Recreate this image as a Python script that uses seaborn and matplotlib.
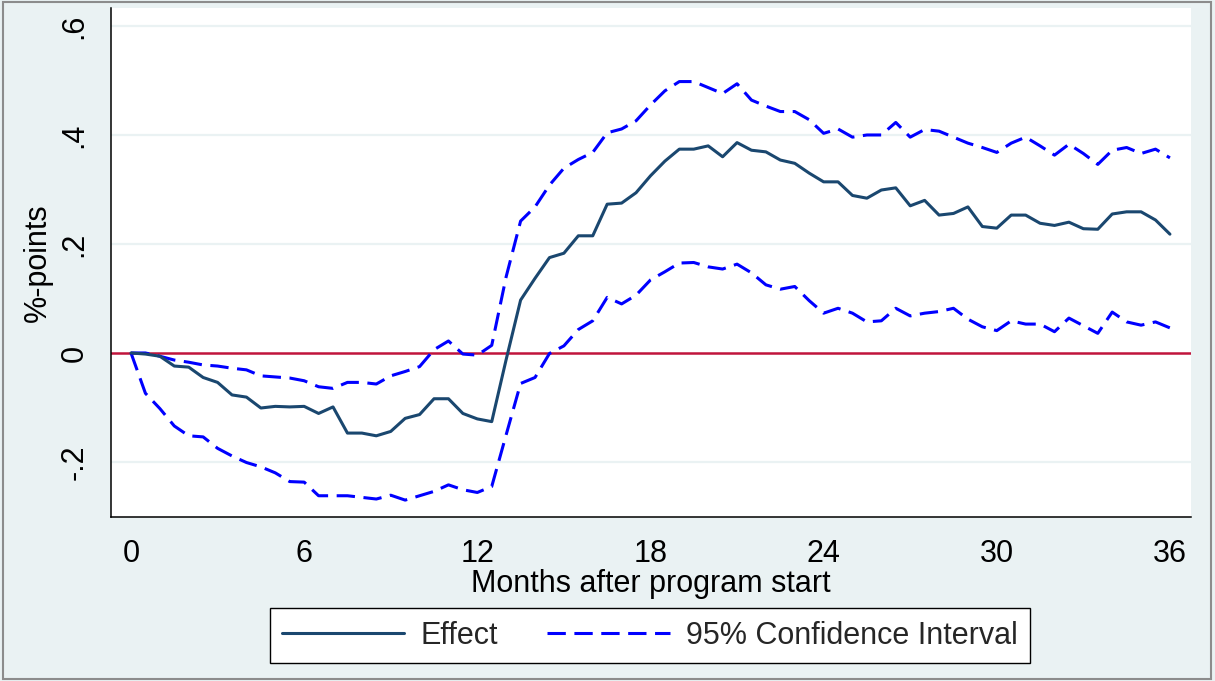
import numpy as np
import matplotlib
matplotlib.use("Agg")
import matplotlib.pyplot as plt
import seaborn as sns
from matplotlib.lines import Line2D
from matplotlib.patches import Rectangle

# Months after program start, in half-month steps (0, 0.5, ..., 36)
months = np.arange(0, 36.5, 0.5)

# Estimated effect (percentage points)
effect = [
    0.000, -0.002, -0.006, -0.024, -0.026, -0.045, -0.054, -0.077, -0.081, -0.101,
    -0.098, -0.099, -0.098, -0.111, -0.099, -0.147, -0.147, -0.152, -0.144, -0.120,
    -0.113, -0.084, -0.084, -0.111, -0.121, -0.126, -0.012, 0.097, 0.137, 0.175,
    0.183, 0.215, 0.215, 0.273, 0.275, 0.294, 0.325, 0.352, 0.374, 0.374,
    0.380, 0.360, 0.386, 0.372, 0.369, 0.354, 0.348, 0.330, 0.314, 0.314,
    0.289, 0.284, 0.299, 0.303, 0.270, 0.280, 0.253, 0.256, 0.268, 0.232,
    0.229, 0.253, 0.253, 0.238, 0.234, 0.240, 0.228, 0.227, 0.255, 0.259,
    0.259, 0.244, 0.218,
]

# Upper bound of the 95% confidence interval
ci_upper = [
    0.000, 0.000, -0.006, -0.013, -0.017, -0.022, -0.024, -0.028, -0.031, -0.042,
    -0.044, -0.046, -0.051, -0.062, -0.065, -0.054, -0.054, -0.057, -0.042, -0.034,
    -0.025, 0.006, 0.022, -0.002, -0.004, 0.014, 0.140, 0.242, 0.268, 0.308,
    0.339, 0.355, 0.368, 0.404, 0.411, 0.426, 0.455, 0.481, 0.498, 0.498,
    0.487, 0.476, 0.494, 0.464, 0.453, 0.443, 0.443, 0.428, 0.403, 0.411,
    0.396, 0.400, 0.400, 0.423, 0.396, 0.410, 0.407, 0.396, 0.385, 0.377,
    0.368, 0.385, 0.396, 0.380, 0.363, 0.383, 0.366, 0.346, 0.372, 0.377,
    0.366, 0.374, 0.358,
]

# Lower bound of the 95% confidence interval
ci_lower = [
    0.000, -0.074, -0.102, -0.134, -0.152, -0.154, -0.175, -0.189, -0.201, -0.209,
    -0.220, -0.236, -0.237, -0.262, -0.262, -0.262, -0.265, -0.268, -0.261, -0.270,
    -0.262, -0.254, -0.242, -0.251, -0.256, -0.245, -0.150, -0.056, -0.045, -0.001,
    0.013, 0.043, 0.059, 0.102, 0.090, 0.106, 0.134, 0.149, 0.165, 0.166,
    0.158, 0.154, 0.163, 0.147, 0.125, 0.117, 0.122, 0.096, 0.073, 0.082,
    0.073, 0.057, 0.059, 0.082, 0.068, 0.073, 0.076, 0.082, 0.062, 0.048,
    0.041, 0.059, 0.053, 0.053, 0.039, 0.064, 0.050, 0.036, 0.075, 0.057,
    0.051, 0.057, 0.046,
]

x_ticks = [0, 6, 12, 18, 24, 30, 36]
y_ticks = [-0.2, 0, 0.2, 0.4, 0.6]
y_tick_labels = ["-.2", "0", ".2", ".4", ".6"]
legend_labels = ["Effect", "95% Confidence Interval"]

BG = "#EAF2F3"
EFFECT_COLOR = "#1A476F"
CI_COLOR = "#0000FF"
ZERO_COLOR = "#C0143C"
FS = 22

sns.set_theme(style="white")
plt.rcParams["font.family"] = ["Liberation Sans", "DejaVu Sans"]

W, H = 1215, 681
fig = plt.figure(figsize=(W / 100, H / 100), dpi=100, facecolor=BG)
ax = fig.add_axes([111 / W, 1 - 517 / H, (1191 - 111) / W, (517 - 8) / H])
ax.set_facecolor("white")

# horizontal grid lines
for yv in y_ticks:
    if yv != 0:
        ax.axhline(yv, color=BG, lw=1.6, zorder=1)
ax.axhline(0, color=ZERO_COLOR, lw=1.8, zorder=2)

lw = 2.2
sns.lineplot(x=months, y=effect, ax=ax, color=EFFECT_COLOR, lw=lw, zorder=4)
sns.lineplot(x=months, y=ci_upper, ax=ax, color=CI_COLOR, lw=lw,
             linestyle=(0, (6, 2.8)), zorder=3)
sns.lineplot(x=months, y=ci_lower, ax=ax, color=CI_COLOR, lw=lw,
             linestyle=(0, (6, 2.8)), zorder=3)

ax.set_xlim(-0.693, 36.73)
ax.set_ylim(-0.301, 0.633)
ax.set_xticks(x_ticks)
ax.set_xticklabels([str(t) for t in x_ticks], fontsize=FS)
ax.set_yticks(y_ticks)
ax.set_yticklabels(y_tick_labels, fontsize=FS, rotation=90, va="center")
ax.tick_params(axis="both", direction="out", length=8.6, width=1.0,
               color="black", labelcolor="black")
ax.tick_params(axis="x", pad=7.0)
ax.tick_params(axis="y", pad=7.0)
ax.grid(False)

for side in ["top", "right"]:
    ax.spines[side].set_visible(False)
for side in ["left", "bottom"]:
    ax.spines[side].set_color("black")
    ax.spines[side].set_linewidth(1.1)

ax.set_xlabel("Months after program start", fontsize=FS, color="black", labelpad=0)
ax.set_ylabel("%-points", fontsize=FS, color="black", labelpad=5)

handles = [
    Line2D([], [], color=EFFECT_COLOR, lw=lw),
    Line2D([], [], color=CI_COLOR, lw=lw, linestyle=(0, (6, 2.8))),
]
leg = fig.legend(handles, legend_labels, loc="center",
                 bbox_to_anchor=(650 / W, 1 - 635.5 / H), ncol=2,
                 fontsize=FS, frameon=True, fancybox=False, framealpha=1,
                 edgecolor="black", facecolor="white", handlelength=4.0,
                 handletextpad=0.55, columnspacing=1.6, borderpad=0.4)
leg.get_frame().set_linewidth(1.0)

# outer frame of the graph
fig.patches.append(Rectangle((3 / W, 2 / H), (1211 - 3) / W, (679 - 2) / H,
                             transform=fig.transFigure, fill=False,
                             edgecolor="#8C8C8C", lw=1.5))

fig.savefig("out.png", dpi=100, facecolor=BG)
